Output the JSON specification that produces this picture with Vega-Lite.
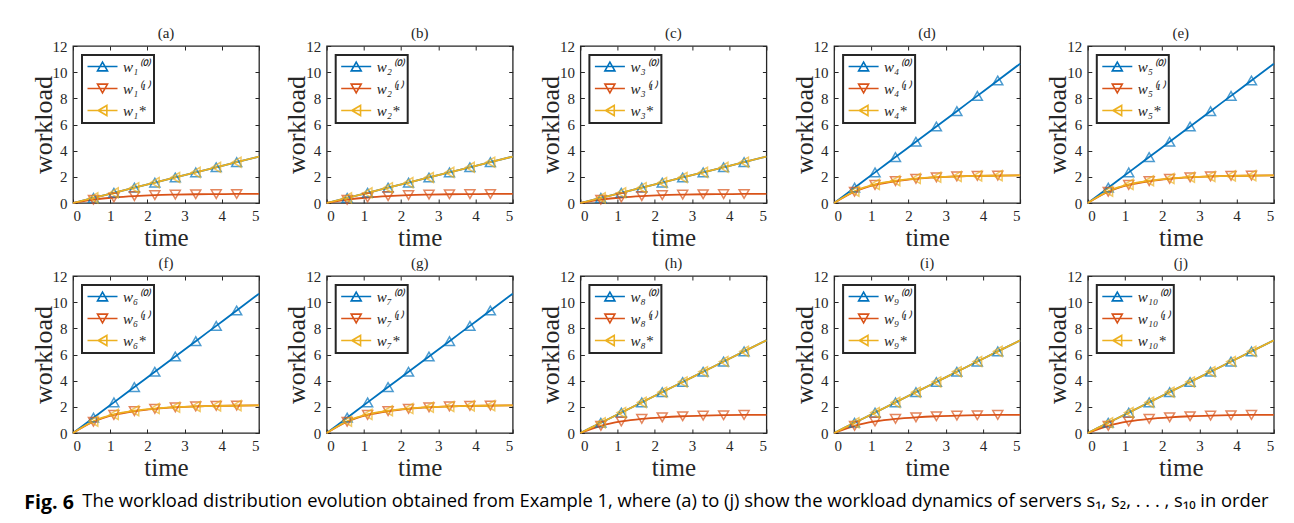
{
  "$schema": "https://vega.github.io/schema/vega-lite/v6.json",
  "background": "white",
  "padding": {"left": 24, "top": 25, "right": 10, "bottom": 5},
  "title": {"text": "The workload distribution evolution obtained from Example 1, where (a) to (j) show the workload dynamics of servers s₁, s₂, . . . , s₁₀ in order", "orient": "bottom", "anchor": "start", "font": "Open Sans", "fontSize": 18.37, "fontWeight": "normal", "color": "black", "offset": 0, "dx": 58, "dy": -20.5},
  "datasets": {
    "w": [
      {"p":"a","s":"(0)","t":0,"w":0},{"p":"a","s":"(0)","t":0.55,"w":0.39},{"p":"a","s":"(0)","t":1.1,"w":0.78},{"p":"a","s":"(0)","t":1.65,"w":1.17},{"p":"a","s":"(0)","t":2.2,"w":1.56},{"p":"a","s":"(0)","t":2.75,"w":1.95},{"p":"a","s":"(0)","t":3.3,"w":2.34},{"p":"a","s":"(0)","t":3.85,"w":2.73},{"p":"a","s":"(0)","t":4.4,"w":3.12},{"p":"a","s":"(0)","t":5,"w":3.55},
      {"p":"a","s":"(1)","t":0,"w":0},{"p":"a","s":"(1)","t":0.55,"w":0.25},{"p":"a","s":"(1)","t":1.1,"w":0.42},{"p":"a","s":"(1)","t":1.65,"w":0.53},{"p":"a","s":"(1)","t":2.2,"w":0.6},{"p":"a","s":"(1)","t":2.75,"w":0.64},{"p":"a","s":"(1)","t":3.3,"w":0.67},{"p":"a","s":"(1)","t":3.85,"w":0.68},{"p":"a","s":"(1)","t":4.4,"w":0.69},{"p":"a","s":"(1)","t":5,"w":0.7},
      {"p":"a","s":"*","t":0,"w":0},{"p":"a","s":"*","t":0.55,"w":0.39},{"p":"a","s":"*","t":1.1,"w":0.78},{"p":"a","s":"*","t":1.65,"w":1.17},{"p":"a","s":"*","t":2.2,"w":1.56},{"p":"a","s":"*","t":2.75,"w":1.95},{"p":"a","s":"*","t":3.3,"w":2.34},{"p":"a","s":"*","t":3.85,"w":2.73},{"p":"a","s":"*","t":4.4,"w":3.12},{"p":"a","s":"*","t":5,"w":3.55},
      {"p":"b","s":"(0)","t":0,"w":0},{"p":"b","s":"(0)","t":0.55,"w":0.39},{"p":"b","s":"(0)","t":1.1,"w":0.78},{"p":"b","s":"(0)","t":1.65,"w":1.17},{"p":"b","s":"(0)","t":2.2,"w":1.56},{"p":"b","s":"(0)","t":2.75,"w":1.95},{"p":"b","s":"(0)","t":3.3,"w":2.34},{"p":"b","s":"(0)","t":3.85,"w":2.73},{"p":"b","s":"(0)","t":4.4,"w":3.12},{"p":"b","s":"(0)","t":5,"w":3.55},
      {"p":"b","s":"(1)","t":0,"w":0},{"p":"b","s":"(1)","t":0.55,"w":0.25},{"p":"b","s":"(1)","t":1.1,"w":0.42},{"p":"b","s":"(1)","t":1.65,"w":0.53},{"p":"b","s":"(1)","t":2.2,"w":0.6},{"p":"b","s":"(1)","t":2.75,"w":0.64},{"p":"b","s":"(1)","t":3.3,"w":0.67},{"p":"b","s":"(1)","t":3.85,"w":0.68},{"p":"b","s":"(1)","t":4.4,"w":0.69},{"p":"b","s":"(1)","t":5,"w":0.7},
      {"p":"b","s":"*","t":0,"w":0},{"p":"b","s":"*","t":0.55,"w":0.39},{"p":"b","s":"*","t":1.1,"w":0.78},{"p":"b","s":"*","t":1.65,"w":1.17},{"p":"b","s":"*","t":2.2,"w":1.56},{"p":"b","s":"*","t":2.75,"w":1.95},{"p":"b","s":"*","t":3.3,"w":2.34},{"p":"b","s":"*","t":3.85,"w":2.73},{"p":"b","s":"*","t":4.4,"w":3.12},{"p":"b","s":"*","t":5,"w":3.55},
      {"p":"c","s":"(0)","t":0,"w":0},{"p":"c","s":"(0)","t":0.55,"w":0.39},{"p":"c","s":"(0)","t":1.1,"w":0.78},{"p":"c","s":"(0)","t":1.65,"w":1.17},{"p":"c","s":"(0)","t":2.2,"w":1.56},{"p":"c","s":"(0)","t":2.75,"w":1.95},{"p":"c","s":"(0)","t":3.3,"w":2.34},{"p":"c","s":"(0)","t":3.85,"w":2.73},{"p":"c","s":"(0)","t":4.4,"w":3.12},{"p":"c","s":"(0)","t":5,"w":3.55},
      {"p":"c","s":"(1)","t":0,"w":0},{"p":"c","s":"(1)","t":0.55,"w":0.25},{"p":"c","s":"(1)","t":1.1,"w":0.42},{"p":"c","s":"(1)","t":1.65,"w":0.53},{"p":"c","s":"(1)","t":2.2,"w":0.6},{"p":"c","s":"(1)","t":2.75,"w":0.64},{"p":"c","s":"(1)","t":3.3,"w":0.67},{"p":"c","s":"(1)","t":3.85,"w":0.68},{"p":"c","s":"(1)","t":4.4,"w":0.69},{"p":"c","s":"(1)","t":5,"w":0.7},
      {"p":"c","s":"*","t":0,"w":0},{"p":"c","s":"*","t":0.55,"w":0.39},{"p":"c","s":"*","t":1.1,"w":0.78},{"p":"c","s":"*","t":1.65,"w":1.17},{"p":"c","s":"*","t":2.2,"w":1.56},{"p":"c","s":"*","t":2.75,"w":1.95},{"p":"c","s":"*","t":3.3,"w":2.34},{"p":"c","s":"*","t":3.85,"w":2.73},{"p":"c","s":"*","t":4.4,"w":3.12},{"p":"c","s":"*","t":5,"w":3.55},
      {"p":"d","s":"(0)","t":0,"w":0},{"p":"d","s":"(0)","t":0.55,"w":1.17},{"p":"d","s":"(0)","t":1.1,"w":2.34},{"p":"d","s":"(0)","t":1.65,"w":3.51},{"p":"d","s":"(0)","t":2.2,"w":4.68},{"p":"d","s":"(0)","t":2.75,"w":5.85},{"p":"d","s":"(0)","t":3.3,"w":7.02},{"p":"d","s":"(0)","t":3.85,"w":8.19},{"p":"d","s":"(0)","t":4.4,"w":9.36},{"p":"d","s":"(0)","t":5,"w":10.65},
      {"p":"d","s":"(1)","t":0,"w":0},{"p":"d","s":"(1)","t":0.55,"w":0.86},{"p":"d","s":"(1)","t":1.1,"w":1.38},{"p":"d","s":"(1)","t":1.65,"w":1.67},{"p":"d","s":"(1)","t":2.2,"w":1.85},{"p":"d","s":"(1)","t":2.75,"w":1.96},{"p":"d","s":"(1)","t":3.3,"w":2.03},{"p":"d","s":"(1)","t":3.85,"w":2.07},{"p":"d","s":"(1)","t":4.4,"w":2.09},{"p":"d","s":"(1)","t":5,"w":2.11},
      {"p":"d","s":"*","t":0,"w":0},{"p":"d","s":"*","t":0.55,"w":0.9},{"p":"d","s":"*","t":1.1,"w":1.42},{"p":"d","s":"*","t":1.65,"w":1.7},{"p":"d","s":"*","t":2.2,"w":1.87},{"p":"d","s":"*","t":2.75,"w":1.97},{"p":"d","s":"*","t":3.3,"w":2.03},{"p":"d","s":"*","t":3.85,"w":2.07},{"p":"d","s":"*","t":4.4,"w":2.09},{"p":"d","s":"*","t":5,"w":2.11},
      {"p":"e","s":"(0)","t":0,"w":0},{"p":"e","s":"(0)","t":0.55,"w":1.17},{"p":"e","s":"(0)","t":1.1,"w":2.34},{"p":"e","s":"(0)","t":1.65,"w":3.51},{"p":"e","s":"(0)","t":2.2,"w":4.68},{"p":"e","s":"(0)","t":2.75,"w":5.85},{"p":"e","s":"(0)","t":3.3,"w":7.02},{"p":"e","s":"(0)","t":3.85,"w":8.19},{"p":"e","s":"(0)","t":4.4,"w":9.36},{"p":"e","s":"(0)","t":5,"w":10.65},
      {"p":"e","s":"(1)","t":0,"w":0},{"p":"e","s":"(1)","t":0.55,"w":0.86},{"p":"e","s":"(1)","t":1.1,"w":1.38},{"p":"e","s":"(1)","t":1.65,"w":1.67},{"p":"e","s":"(1)","t":2.2,"w":1.85},{"p":"e","s":"(1)","t":2.75,"w":1.96},{"p":"e","s":"(1)","t":3.3,"w":2.03},{"p":"e","s":"(1)","t":3.85,"w":2.07},{"p":"e","s":"(1)","t":4.4,"w":2.09},{"p":"e","s":"(1)","t":5,"w":2.11},
      {"p":"e","s":"*","t":0,"w":0},{"p":"e","s":"*","t":0.55,"w":0.9},{"p":"e","s":"*","t":1.1,"w":1.42},{"p":"e","s":"*","t":1.65,"w":1.7},{"p":"e","s":"*","t":2.2,"w":1.87},{"p":"e","s":"*","t":2.75,"w":1.97},{"p":"e","s":"*","t":3.3,"w":2.03},{"p":"e","s":"*","t":3.85,"w":2.07},{"p":"e","s":"*","t":4.4,"w":2.09},{"p":"e","s":"*","t":5,"w":2.11},
      {"p":"f","s":"(0)","t":0,"w":0},{"p":"f","s":"(0)","t":0.55,"w":1.17},{"p":"f","s":"(0)","t":1.1,"w":2.34},{"p":"f","s":"(0)","t":1.65,"w":3.51},{"p":"f","s":"(0)","t":2.2,"w":4.68},{"p":"f","s":"(0)","t":2.75,"w":5.85},{"p":"f","s":"(0)","t":3.3,"w":7.02},{"p":"f","s":"(0)","t":3.85,"w":8.19},{"p":"f","s":"(0)","t":4.4,"w":9.36},{"p":"f","s":"(0)","t":5,"w":10.65},
      {"p":"f","s":"(1)","t":0,"w":0},{"p":"f","s":"(1)","t":0.55,"w":0.86},{"p":"f","s":"(1)","t":1.1,"w":1.38},{"p":"f","s":"(1)","t":1.65,"w":1.67},{"p":"f","s":"(1)","t":2.2,"w":1.85},{"p":"f","s":"(1)","t":2.75,"w":1.96},{"p":"f","s":"(1)","t":3.3,"w":2.03},{"p":"f","s":"(1)","t":3.85,"w":2.07},{"p":"f","s":"(1)","t":4.4,"w":2.09},{"p":"f","s":"(1)","t":5,"w":2.11},
      {"p":"f","s":"*","t":0,"w":0},{"p":"f","s":"*","t":0.55,"w":0.9},{"p":"f","s":"*","t":1.1,"w":1.42},{"p":"f","s":"*","t":1.65,"w":1.7},{"p":"f","s":"*","t":2.2,"w":1.87},{"p":"f","s":"*","t":2.75,"w":1.97},{"p":"f","s":"*","t":3.3,"w":2.03},{"p":"f","s":"*","t":3.85,"w":2.07},{"p":"f","s":"*","t":4.4,"w":2.09},{"p":"f","s":"*","t":5,"w":2.11},
      {"p":"g","s":"(0)","t":0,"w":0},{"p":"g","s":"(0)","t":0.55,"w":1.17},{"p":"g","s":"(0)","t":1.1,"w":2.34},{"p":"g","s":"(0)","t":1.65,"w":3.51},{"p":"g","s":"(0)","t":2.2,"w":4.68},{"p":"g","s":"(0)","t":2.75,"w":5.85},{"p":"g","s":"(0)","t":3.3,"w":7.02},{"p":"g","s":"(0)","t":3.85,"w":8.19},{"p":"g","s":"(0)","t":4.4,"w":9.36},{"p":"g","s":"(0)","t":5,"w":10.65},
      {"p":"g","s":"(1)","t":0,"w":0},{"p":"g","s":"(1)","t":0.55,"w":0.86},{"p":"g","s":"(1)","t":1.1,"w":1.38},{"p":"g","s":"(1)","t":1.65,"w":1.67},{"p":"g","s":"(1)","t":2.2,"w":1.85},{"p":"g","s":"(1)","t":2.75,"w":1.96},{"p":"g","s":"(1)","t":3.3,"w":2.03},{"p":"g","s":"(1)","t":3.85,"w":2.07},{"p":"g","s":"(1)","t":4.4,"w":2.09},{"p":"g","s":"(1)","t":5,"w":2.11},
      {"p":"g","s":"*","t":0,"w":0},{"p":"g","s":"*","t":0.55,"w":0.9},{"p":"g","s":"*","t":1.1,"w":1.42},{"p":"g","s":"*","t":1.65,"w":1.7},{"p":"g","s":"*","t":2.2,"w":1.87},{"p":"g","s":"*","t":2.75,"w":1.97},{"p":"g","s":"*","t":3.3,"w":2.03},{"p":"g","s":"*","t":3.85,"w":2.07},{"p":"g","s":"*","t":4.4,"w":2.09},{"p":"g","s":"*","t":5,"w":2.11},
      {"p":"h","s":"(0)","t":0,"w":0},{"p":"h","s":"(0)","t":0.55,"w":0.78},{"p":"h","s":"(0)","t":1.1,"w":1.56},{"p":"h","s":"(0)","t":1.65,"w":2.34},{"p":"h","s":"(0)","t":2.2,"w":3.12},{"p":"h","s":"(0)","t":2.75,"w":3.9},{"p":"h","s":"(0)","t":3.3,"w":4.68},{"p":"h","s":"(0)","t":3.85,"w":5.46},{"p":"h","s":"(0)","t":4.4,"w":6.24},{"p":"h","s":"(0)","t":5,"w":7.08},
      {"p":"h","s":"(1)","t":0,"w":0},{"p":"h","s":"(1)","t":0.55,"w":0.55},{"p":"h","s":"(1)","t":1.1,"w":0.88},{"p":"h","s":"(1)","t":1.65,"w":1.08},{"p":"h","s":"(1)","t":2.2,"w":1.2},{"p":"h","s":"(1)","t":2.75,"w":1.28},{"p":"h","s":"(1)","t":3.3,"w":1.33},{"p":"h","s":"(1)","t":3.85,"w":1.36},{"p":"h","s":"(1)","t":4.4,"w":1.38},{"p":"h","s":"(1)","t":5,"w":1.39},
      {"p":"h","s":"*","t":0,"w":0},{"p":"h","s":"*","t":0.55,"w":0.78},{"p":"h","s":"*","t":1.1,"w":1.56},{"p":"h","s":"*","t":1.65,"w":2.34},{"p":"h","s":"*","t":2.2,"w":3.12},{"p":"h","s":"*","t":2.75,"w":3.9},{"p":"h","s":"*","t":3.3,"w":4.68},{"p":"h","s":"*","t":3.85,"w":5.46},{"p":"h","s":"*","t":4.4,"w":6.24},{"p":"h","s":"*","t":5,"w":7.08},
      {"p":"i","s":"(0)","t":0,"w":0},{"p":"i","s":"(0)","t":0.55,"w":0.78},{"p":"i","s":"(0)","t":1.1,"w":1.56},{"p":"i","s":"(0)","t":1.65,"w":2.34},{"p":"i","s":"(0)","t":2.2,"w":3.12},{"p":"i","s":"(0)","t":2.75,"w":3.9},{"p":"i","s":"(0)","t":3.3,"w":4.68},{"p":"i","s":"(0)","t":3.85,"w":5.46},{"p":"i","s":"(0)","t":4.4,"w":6.24},{"p":"i","s":"(0)","t":5,"w":7.08},
      {"p":"i","s":"(1)","t":0,"w":0},{"p":"i","s":"(1)","t":0.55,"w":0.55},{"p":"i","s":"(1)","t":1.1,"w":0.88},{"p":"i","s":"(1)","t":1.65,"w":1.08},{"p":"i","s":"(1)","t":2.2,"w":1.2},{"p":"i","s":"(1)","t":2.75,"w":1.28},{"p":"i","s":"(1)","t":3.3,"w":1.33},{"p":"i","s":"(1)","t":3.85,"w":1.36},{"p":"i","s":"(1)","t":4.4,"w":1.38},{"p":"i","s":"(1)","t":5,"w":1.39},
      {"p":"i","s":"*","t":0,"w":0},{"p":"i","s":"*","t":0.55,"w":0.78},{"p":"i","s":"*","t":1.1,"w":1.56},{"p":"i","s":"*","t":1.65,"w":2.34},{"p":"i","s":"*","t":2.2,"w":3.12},{"p":"i","s":"*","t":2.75,"w":3.9},{"p":"i","s":"*","t":3.3,"w":4.68},{"p":"i","s":"*","t":3.85,"w":5.46},{"p":"i","s":"*","t":4.4,"w":6.24},{"p":"i","s":"*","t":5,"w":7.08},
      {"p":"j","s":"(0)","t":0,"w":0},{"p":"j","s":"(0)","t":0.55,"w":0.78},{"p":"j","s":"(0)","t":1.1,"w":1.56},{"p":"j","s":"(0)","t":1.65,"w":2.34},{"p":"j","s":"(0)","t":2.2,"w":3.12},{"p":"j","s":"(0)","t":2.75,"w":3.9},{"p":"j","s":"(0)","t":3.3,"w":4.68},{"p":"j","s":"(0)","t":3.85,"w":5.46},{"p":"j","s":"(0)","t":4.4,"w":6.24},{"p":"j","s":"(0)","t":5,"w":7.08},
      {"p":"j","s":"(1)","t":0,"w":0},{"p":"j","s":"(1)","t":0.55,"w":0.55},{"p":"j","s":"(1)","t":1.1,"w":0.88},{"p":"j","s":"(1)","t":1.65,"w":1.08},{"p":"j","s":"(1)","t":2.2,"w":1.2},{"p":"j","s":"(1)","t":2.75,"w":1.28},{"p":"j","s":"(1)","t":3.3,"w":1.33},{"p":"j","s":"(1)","t":3.85,"w":1.36},{"p":"j","s":"(1)","t":4.4,"w":1.38},{"p":"j","s":"(1)","t":5,"w":1.39},
      {"p":"j","s":"*","t":0,"w":0},{"p":"j","s":"*","t":0.55,"w":0.78},{"p":"j","s":"*","t":1.1,"w":1.56},{"p":"j","s":"*","t":1.65,"w":2.34},{"p":"j","s":"*","t":2.2,"w":3.12},{"p":"j","s":"*","t":2.75,"w":3.9},{"p":"j","s":"*","t":3.3,"w":4.68},{"p":"j","s":"*","t":3.85,"w":5.46},{"p":"j","s":"*","t":4.4,"w":6.24},{"p":"j","s":"*","t":5,"w":7.08}
    ]
  },
  "data": {"name": "w"},
  "resolve": {"scale": {"color": "independent", "x": "independent", "y": "independent"}, "legend": {"color": "independent"}},
  "vconcat": [
   {"bounds": "flush", "columns": 5, "spacing": {"row": 73, "column": 67.7},
    "title": {"text": "Fig. 6", "orient": "bottom", "anchor": "start", "font": "Open Sans", "fontSize": 19.5, "fontWeight": "bold", "color": "black", "offset": 13, "dx": -5},
    "resolve": {"scale": {"color": "independent", "x": "independent", "y": "independent"}, "legend": {"color": "independent"}},
    "concat": [
    {"width": 186, "height": 157, "title": "(a)", "transform": [{"filter": "datum.p == 'a'"}], "resolve": {"axis": {"x": "independent", "y": "independent"}},
     "layer": [
      {"mark": {"type": "line", "strokeWidth": 1.8, "interpolate": "monotone"}, "encoding": {"x": {"field": "t", "type": "quantitative", "scale": {"domain": [0, 5]}, "axis": {"orient": "bottom", "title": "time", "values": [0,1,2,3,4,5], "labelPadding": 9, "titleFont": "Liberation Serif", "titleFontWeight": "normal", "titleFontSize": 25, "labelFont": "Liberation Serif", "labelFontSize": 15}}, "y": {"field": "w", "type": "quantitative", "scale": {"domain": [0, 12]}, "axis": {"orient": "left", "title": "workload", "values": [0,2,4,6,8,10,12], "labelPadding": 10, "titlePadding": -4, "titleFont": "Liberation Serif", "titleFontWeight": "normal", "titleFontSize": 26, "labelFont": "Liberation Serif", "labelFontSize": 15}}, "color": {"field": "s", "type": "nominal", "scale": {"domain": ["(0)","(1)","*"], "range": ["#0072BD","#D95319","#EDB120"]}, "legend": {"labelExpr": "datum.value == '(0)' ? 'w₁⁽⁰⁾' : datum.value == '(1)' ? 'w₁⁽¹⁾' : 'w₁*'", "encode": {"legend": {"update": {"stroke": {"value": "#262626"}, "strokeWidth": {"value": 2}, "fill": {"value": "white"}}}, "symbols": {"update": {"shape": {"signal": "datum.value == '(0)' ? 'M-3,0H3M0,-0.87L1,0.87H-1Z' : datum.value == '(1)' ? 'M-3,0H3M0,0.87L1,-0.87H-1Z' : 'M-3,0H3M-0.87,0L0.87,-1V1Z'"}, "fill": {"value": "transparent"}, "strokeWidth": {"value": 1.6}}}}}}}},
      {"transform": [{"filter": "datum.s == '(0)' && datum.t > 0 && datum.t < 5"}], "mark": {"type": "point", "shape": "triangle-up", "filled": false, "size": 100, "strokeWidth": 1.5, "color": "#0072BD"}, "encoding": {"x": {"field": "t", "type": "quantitative", "scale": {"domain": [0, 5]}, "axis": {"orient": "top", "labels": false, "title": null, "values": [0,1,2,3,4,5]}}, "y": {"field": "w", "type": "quantitative", "scale": {"domain": [0, 12]}, "axis": {"orient": "right", "labels": false, "title": null, "values": [0,2,4,6,8,10,12]}}}},
      {"transform": [{"filter": "datum.s == '(1)' && datum.t > 0 && datum.t < 5"}], "mark": {"type": "point", "shape": "triangle-down", "filled": false, "size": 100, "strokeWidth": 1.5, "color": "#D95319"}, "encoding": {"x": {"field": "t", "type": "quantitative", "scale": {"domain": [0, 5]}, "axis": null}, "y": {"field": "w", "type": "quantitative", "scale": {"domain": [0, 12]}, "axis": null}}},
      {"transform": [{"filter": "datum.s == '*' && datum.t > 0 && datum.t < 5"}], "mark": {"type": "point", "shape": "triangle-left", "filled": false, "size": 100, "strokeWidth": 1.5, "color": "#EDB120"}, "encoding": {"x": {"field": "t", "type": "quantitative", "scale": {"domain": [0, 5]}, "axis": null}, "y": {"field": "w", "type": "quantitative", "scale": {"domain": [0, 12]}, "axis": null}}}
     ]},
    {"width": 186, "height": 157, "title": "(b)", "transform": [{"filter": "datum.p == 'b'"}], "resolve": {"axis": {"x": "independent", "y": "independent"}},
     "layer": [
      {"mark": {"type": "line", "strokeWidth": 1.8, "interpolate": "monotone"}, "encoding": {"x": {"field": "t", "type": "quantitative", "scale": {"domain": [0, 5]}, "axis": {"orient": "bottom", "title": "time", "values": [0,1,2,3,4,5], "labelPadding": 9, "titleFont": "Liberation Serif", "titleFontWeight": "normal", "titleFontSize": 25, "labelFont": "Liberation Serif", "labelFontSize": 15}}, "y": {"field": "w", "type": "quantitative", "scale": {"domain": [0, 12]}, "axis": {"orient": "left", "title": "workload", "values": [0,2,4,6,8,10,12], "labelPadding": 10, "titlePadding": -4, "titleFont": "Liberation Serif", "titleFontWeight": "normal", "titleFontSize": 26, "labelFont": "Liberation Serif", "labelFontSize": 15}}, "color": {"field": "s", "type": "nominal", "scale": {"domain": ["(0)","(1)","*"], "range": ["#0072BD","#D95319","#EDB120"]}, "legend": {"labelExpr": "datum.value == '(0)' ? 'w₂⁽⁰⁾' : datum.value == '(1)' ? 'w₂⁽¹⁾' : 'w₂*'", "encode": {"legend": {"update": {"stroke": {"value": "#262626"}, "strokeWidth": {"value": 2}, "fill": {"value": "white"}}}, "symbols": {"update": {"shape": {"signal": "datum.value == '(0)' ? 'M-3,0H3M0,-0.87L1,0.87H-1Z' : datum.value == '(1)' ? 'M-3,0H3M0,0.87L1,-0.87H-1Z' : 'M-3,0H3M-0.87,0L0.87,-1V1Z'"}, "fill": {"value": "transparent"}, "strokeWidth": {"value": 1.6}}}}}}}},
      {"transform": [{"filter": "datum.s == '(0)' && datum.t > 0 && datum.t < 5"}], "mark": {"type": "point", "shape": "triangle-up", "filled": false, "size": 100, "strokeWidth": 1.5, "color": "#0072BD"}, "encoding": {"x": {"field": "t", "type": "quantitative", "scale": {"domain": [0, 5]}, "axis": {"orient": "top", "labels": false, "title": null, "values": [0,1,2,3,4,5]}}, "y": {"field": "w", "type": "quantitative", "scale": {"domain": [0, 12]}, "axis": {"orient": "right", "labels": false, "title": null, "values": [0,2,4,6,8,10,12]}}}},
      {"transform": [{"filter": "datum.s == '(1)' && datum.t > 0 && datum.t < 5"}], "mark": {"type": "point", "shape": "triangle-down", "filled": false, "size": 100, "strokeWidth": 1.5, "color": "#D95319"}, "encoding": {"x": {"field": "t", "type": "quantitative", "scale": {"domain": [0, 5]}, "axis": null}, "y": {"field": "w", "type": "quantitative", "scale": {"domain": [0, 12]}, "axis": null}}},
      {"transform": [{"filter": "datum.s == '*' && datum.t > 0 && datum.t < 5"}], "mark": {"type": "point", "shape": "triangle-left", "filled": false, "size": 100, "strokeWidth": 1.5, "color": "#EDB120"}, "encoding": {"x": {"field": "t", "type": "quantitative", "scale": {"domain": [0, 5]}, "axis": null}, "y": {"field": "w", "type": "quantitative", "scale": {"domain": [0, 12]}, "axis": null}}}
     ]},
    {"width": 186, "height": 157, "title": "(c)", "transform": [{"filter": "datum.p == 'c'"}], "resolve": {"axis": {"x": "independent", "y": "independent"}},
     "layer": [
      {"mark": {"type": "line", "strokeWidth": 1.8, "interpolate": "monotone"}, "encoding": {"x": {"field": "t", "type": "quantitative", "scale": {"domain": [0, 5]}, "axis": {"orient": "bottom", "title": "time", "values": [0,1,2,3,4,5], "labelPadding": 9, "titleFont": "Liberation Serif", "titleFontWeight": "normal", "titleFontSize": 25, "labelFont": "Liberation Serif", "labelFontSize": 15}}, "y": {"field": "w", "type": "quantitative", "scale": {"domain": [0, 12]}, "axis": {"orient": "left", "title": "workload", "values": [0,2,4,6,8,10,12], "labelPadding": 10, "titlePadding": -4, "titleFont": "Liberation Serif", "titleFontWeight": "normal", "titleFontSize": 26, "labelFont": "Liberation Serif", "labelFontSize": 15}}, "color": {"field": "s", "type": "nominal", "scale": {"domain": ["(0)","(1)","*"], "range": ["#0072BD","#D95319","#EDB120"]}, "legend": {"labelExpr": "datum.value == '(0)' ? 'w₃⁽⁰⁾' : datum.value == '(1)' ? 'w₃⁽¹⁾' : 'w₃*'", "encode": {"legend": {"update": {"stroke": {"value": "#262626"}, "strokeWidth": {"value": 2}, "fill": {"value": "white"}}}, "symbols": {"update": {"shape": {"signal": "datum.value == '(0)' ? 'M-3,0H3M0,-0.87L1,0.87H-1Z' : datum.value == '(1)' ? 'M-3,0H3M0,0.87L1,-0.87H-1Z' : 'M-3,0H3M-0.87,0L0.87,-1V1Z'"}, "fill": {"value": "transparent"}, "strokeWidth": {"value": 1.6}}}}}}}},
      {"transform": [{"filter": "datum.s == '(0)' && datum.t > 0 && datum.t < 5"}], "mark": {"type": "point", "shape": "triangle-up", "filled": false, "size": 100, "strokeWidth": 1.5, "color": "#0072BD"}, "encoding": {"x": {"field": "t", "type": "quantitative", "scale": {"domain": [0, 5]}, "axis": {"orient": "top", "labels": false, "title": null, "values": [0,1,2,3,4,5]}}, "y": {"field": "w", "type": "quantitative", "scale": {"domain": [0, 12]}, "axis": {"orient": "right", "labels": false, "title": null, "values": [0,2,4,6,8,10,12]}}}},
      {"transform": [{"filter": "datum.s == '(1)' && datum.t > 0 && datum.t < 5"}], "mark": {"type": "point", "shape": "triangle-down", "filled": false, "size": 100, "strokeWidth": 1.5, "color": "#D95319"}, "encoding": {"x": {"field": "t", "type": "quantitative", "scale": {"domain": [0, 5]}, "axis": null}, "y": {"field": "w", "type": "quantitative", "scale": {"domain": [0, 12]}, "axis": null}}},
      {"transform": [{"filter": "datum.s == '*' && datum.t > 0 && datum.t < 5"}], "mark": {"type": "point", "shape": "triangle-left", "filled": false, "size": 100, "strokeWidth": 1.5, "color": "#EDB120"}, "encoding": {"x": {"field": "t", "type": "quantitative", "scale": {"domain": [0, 5]}, "axis": null}, "y": {"field": "w", "type": "quantitative", "scale": {"domain": [0, 12]}, "axis": null}}}
     ]},
    {"width": 186, "height": 157, "title": "(d)", "transform": [{"filter": "datum.p == 'd'"}], "resolve": {"axis": {"x": "independent", "y": "independent"}},
     "layer": [
      {"mark": {"type": "line", "strokeWidth": 1.8, "interpolate": "monotone"}, "encoding": {"x": {"field": "t", "type": "quantitative", "scale": {"domain": [0, 5]}, "axis": {"orient": "bottom", "title": "time", "values": [0,1,2,3,4,5], "labelPadding": 9, "titleFont": "Liberation Serif", "titleFontWeight": "normal", "titleFontSize": 25, "labelFont": "Liberation Serif", "labelFontSize": 15}}, "y": {"field": "w", "type": "quantitative", "scale": {"domain": [0, 12]}, "axis": {"orient": "left", "title": "workload", "values": [0,2,4,6,8,10,12], "labelPadding": 10, "titlePadding": -4, "titleFont": "Liberation Serif", "titleFontWeight": "normal", "titleFontSize": 26, "labelFont": "Liberation Serif", "labelFontSize": 15}}, "color": {"field": "s", "type": "nominal", "scale": {"domain": ["(0)","(1)","*"], "range": ["#0072BD","#D95319","#EDB120"]}, "legend": {"labelExpr": "datum.value == '(0)' ? 'w₄⁽⁰⁾' : datum.value == '(1)' ? 'w₄⁽¹⁾' : 'w₄*'", "encode": {"legend": {"update": {"stroke": {"value": "#262626"}, "strokeWidth": {"value": 2}, "fill": {"value": "white"}}}, "symbols": {"update": {"shape": {"signal": "datum.value == '(0)' ? 'M-3,0H3M0,-0.87L1,0.87H-1Z' : datum.value == '(1)' ? 'M-3,0H3M0,0.87L1,-0.87H-1Z' : 'M-3,0H3M-0.87,0L0.87,-1V1Z'"}, "fill": {"value": "transparent"}, "strokeWidth": {"value": 1.6}}}}}}}},
      {"transform": [{"filter": "datum.s == '(0)' && datum.t > 0 && datum.t < 5"}], "mark": {"type": "point", "shape": "triangle-up", "filled": false, "size": 100, "strokeWidth": 1.5, "color": "#0072BD"}, "encoding": {"x": {"field": "t", "type": "quantitative", "scale": {"domain": [0, 5]}, "axis": {"orient": "top", "labels": false, "title": null, "values": [0,1,2,3,4,5]}}, "y": {"field": "w", "type": "quantitative", "scale": {"domain": [0, 12]}, "axis": {"orient": "right", "labels": false, "title": null, "values": [0,2,4,6,8,10,12]}}}},
      {"transform": [{"filter": "datum.s == '(1)' && datum.t > 0 && datum.t < 5"}], "mark": {"type": "point", "shape": "triangle-down", "filled": false, "size": 100, "strokeWidth": 1.5, "color": "#D95319"}, "encoding": {"x": {"field": "t", "type": "quantitative", "scale": {"domain": [0, 5]}, "axis": null}, "y": {"field": "w", "type": "quantitative", "scale": {"domain": [0, 12]}, "axis": null}}},
      {"transform": [{"filter": "datum.s == '*' && datum.t > 0 && datum.t < 5"}], "mark": {"type": "point", "shape": "triangle-left", "filled": false, "size": 100, "strokeWidth": 1.5, "color": "#EDB120"}, "encoding": {"x": {"field": "t", "type": "quantitative", "scale": {"domain": [0, 5]}, "axis": null}, "y": {"field": "w", "type": "quantitative", "scale": {"domain": [0, 12]}, "axis": null}}}
     ]},
    {"width": 186, "height": 157, "title": "(e)", "transform": [{"filter": "datum.p == 'e'"}], "resolve": {"axis": {"x": "independent", "y": "independent"}},
     "layer": [
      {"mark": {"type": "line", "strokeWidth": 1.8, "interpolate": "monotone"}, "encoding": {"x": {"field": "t", "type": "quantitative", "scale": {"domain": [0, 5]}, "axis": {"orient": "bottom", "title": "time", "values": [0,1,2,3,4,5], "labelPadding": 9, "titleFont": "Liberation Serif", "titleFontWeight": "normal", "titleFontSize": 25, "labelFont": "Liberation Serif", "labelFontSize": 15}}, "y": {"field": "w", "type": "quantitative", "scale": {"domain": [0, 12]}, "axis": {"orient": "left", "title": "workload", "values": [0,2,4,6,8,10,12], "labelPadding": 10, "titlePadding": -4, "titleFont": "Liberation Serif", "titleFontWeight": "normal", "titleFontSize": 26, "labelFont": "Liberation Serif", "labelFontSize": 15}}, "color": {"field": "s", "type": "nominal", "scale": {"domain": ["(0)","(1)","*"], "range": ["#0072BD","#D95319","#EDB120"]}, "legend": {"labelExpr": "datum.value == '(0)' ? 'w₅⁽⁰⁾' : datum.value == '(1)' ? 'w₅⁽¹⁾' : 'w₅*'", "encode": {"legend": {"update": {"stroke": {"value": "#262626"}, "strokeWidth": {"value": 2}, "fill": {"value": "white"}}}, "symbols": {"update": {"shape": {"signal": "datum.value == '(0)' ? 'M-3,0H3M0,-0.87L1,0.87H-1Z' : datum.value == '(1)' ? 'M-3,0H3M0,0.87L1,-0.87H-1Z' : 'M-3,0H3M-0.87,0L0.87,-1V1Z'"}, "fill": {"value": "transparent"}, "strokeWidth": {"value": 1.6}}}}}}}},
      {"transform": [{"filter": "datum.s == '(0)' && datum.t > 0 && datum.t < 5"}], "mark": {"type": "point", "shape": "triangle-up", "filled": false, "size": 100, "strokeWidth": 1.5, "color": "#0072BD"}, "encoding": {"x": {"field": "t", "type": "quantitative", "scale": {"domain": [0, 5]}, "axis": {"orient": "top", "labels": false, "title": null, "values": [0,1,2,3,4,5]}}, "y": {"field": "w", "type": "quantitative", "scale": {"domain": [0, 12]}, "axis": {"orient": "right", "labels": false, "title": null, "values": [0,2,4,6,8,10,12]}}}},
      {"transform": [{"filter": "datum.s == '(1)' && datum.t > 0 && datum.t < 5"}], "mark": {"type": "point", "shape": "triangle-down", "filled": false, "size": 100, "strokeWidth": 1.5, "color": "#D95319"}, "encoding": {"x": {"field": "t", "type": "quantitative", "scale": {"domain": [0, 5]}, "axis": null}, "y": {"field": "w", "type": "quantitative", "scale": {"domain": [0, 12]}, "axis": null}}},
      {"transform": [{"filter": "datum.s == '*' && datum.t > 0 && datum.t < 5"}], "mark": {"type": "point", "shape": "triangle-left", "filled": false, "size": 100, "strokeWidth": 1.5, "color": "#EDB120"}, "encoding": {"x": {"field": "t", "type": "quantitative", "scale": {"domain": [0, 5]}, "axis": null}, "y": {"field": "w", "type": "quantitative", "scale": {"domain": [0, 12]}, "axis": null}}}
     ]},
    {"width": 186, "height": 157, "title": "(f)", "transform": [{"filter": "datum.p == 'f'"}], "resolve": {"axis": {"x": "independent", "y": "independent"}},
     "layer": [
      {"mark": {"type": "line", "strokeWidth": 1.8, "interpolate": "monotone"}, "encoding": {"x": {"field": "t", "type": "quantitative", "scale": {"domain": [0, 5]}, "axis": {"orient": "bottom", "title": "time", "values": [0,1,2,3,4,5], "labelPadding": 9, "titleFont": "Liberation Serif", "titleFontWeight": "normal", "titleFontSize": 25, "labelFont": "Liberation Serif", "labelFontSize": 15}}, "y": {"field": "w", "type": "quantitative", "scale": {"domain": [0, 12]}, "axis": {"orient": "left", "title": "workload", "values": [0,2,4,6,8,10,12], "labelPadding": 10, "titlePadding": -4, "titleFont": "Liberation Serif", "titleFontWeight": "normal", "titleFontSize": 26, "labelFont": "Liberation Serif", "labelFontSize": 15}}, "color": {"field": "s", "type": "nominal", "scale": {"domain": ["(0)","(1)","*"], "range": ["#0072BD","#D95319","#EDB120"]}, "legend": {"labelExpr": "datum.value == '(0)' ? 'w₆⁽⁰⁾' : datum.value == '(1)' ? 'w₆⁽¹⁾' : 'w₆*'", "encode": {"legend": {"update": {"stroke": {"value": "#262626"}, "strokeWidth": {"value": 2}, "fill": {"value": "white"}}}, "symbols": {"update": {"shape": {"signal": "datum.value == '(0)' ? 'M-3,0H3M0,-0.87L1,0.87H-1Z' : datum.value == '(1)' ? 'M-3,0H3M0,0.87L1,-0.87H-1Z' : 'M-3,0H3M-0.87,0L0.87,-1V1Z'"}, "fill": {"value": "transparent"}, "strokeWidth": {"value": 1.6}}}}}}}},
      {"transform": [{"filter": "datum.s == '(0)' && datum.t > 0 && datum.t < 5"}], "mark": {"type": "point", "shape": "triangle-up", "filled": false, "size": 100, "strokeWidth": 1.5, "color": "#0072BD"}, "encoding": {"x": {"field": "t", "type": "quantitative", "scale": {"domain": [0, 5]}, "axis": {"orient": "top", "labels": false, "title": null, "values": [0,1,2,3,4,5]}}, "y": {"field": "w", "type": "quantitative", "scale": {"domain": [0, 12]}, "axis": {"orient": "right", "labels": false, "title": null, "values": [0,2,4,6,8,10,12]}}}},
      {"transform": [{"filter": "datum.s == '(1)' && datum.t > 0 && datum.t < 5"}], "mark": {"type": "point", "shape": "triangle-down", "filled": false, "size": 100, "strokeWidth": 1.5, "color": "#D95319"}, "encoding": {"x": {"field": "t", "type": "quantitative", "scale": {"domain": [0, 5]}, "axis": null}, "y": {"field": "w", "type": "quantitative", "scale": {"domain": [0, 12]}, "axis": null}}},
      {"transform": [{"filter": "datum.s == '*' && datum.t > 0 && datum.t < 5"}], "mark": {"type": "point", "shape": "triangle-left", "filled": false, "size": 100, "strokeWidth": 1.5, "color": "#EDB120"}, "encoding": {"x": {"field": "t", "type": "quantitative", "scale": {"domain": [0, 5]}, "axis": null}, "y": {"field": "w", "type": "quantitative", "scale": {"domain": [0, 12]}, "axis": null}}}
     ]},
    {"width": 186, "height": 157, "title": "(g)", "transform": [{"filter": "datum.p == 'g'"}], "resolve": {"axis": {"x": "independent", "y": "independent"}},
     "layer": [
      {"mark": {"type": "line", "strokeWidth": 1.8, "interpolate": "monotone"}, "encoding": {"x": {"field": "t", "type": "quantitative", "scale": {"domain": [0, 5]}, "axis": {"orient": "bottom", "title": "time", "values": [0,1,2,3,4,5], "labelPadding": 9, "titleFont": "Liberation Serif", "titleFontWeight": "normal", "titleFontSize": 25, "labelFont": "Liberation Serif", "labelFontSize": 15}}, "y": {"field": "w", "type": "quantitative", "scale": {"domain": [0, 12]}, "axis": {"orient": "left", "title": "workload", "values": [0,2,4,6,8,10,12], "labelPadding": 10, "titlePadding": -4, "titleFont": "Liberation Serif", "titleFontWeight": "normal", "titleFontSize": 26, "labelFont": "Liberation Serif", "labelFontSize": 15}}, "color": {"field": "s", "type": "nominal", "scale": {"domain": ["(0)","(1)","*"], "range": ["#0072BD","#D95319","#EDB120"]}, "legend": {"labelExpr": "datum.value == '(0)' ? 'w₇⁽⁰⁾' : datum.value == '(1)' ? 'w₇⁽¹⁾' : 'w₇*'", "encode": {"legend": {"update": {"stroke": {"value": "#262626"}, "strokeWidth": {"value": 2}, "fill": {"value": "white"}}}, "symbols": {"update": {"shape": {"signal": "datum.value == '(0)' ? 'M-3,0H3M0,-0.87L1,0.87H-1Z' : datum.value == '(1)' ? 'M-3,0H3M0,0.87L1,-0.87H-1Z' : 'M-3,0H3M-0.87,0L0.87,-1V1Z'"}, "fill": {"value": "transparent"}, "strokeWidth": {"value": 1.6}}}}}}}},
      {"transform": [{"filter": "datum.s == '(0)' && datum.t > 0 && datum.t < 5"}], "mark": {"type": "point", "shape": "triangle-up", "filled": false, "size": 100, "strokeWidth": 1.5, "color": "#0072BD"}, "encoding": {"x": {"field": "t", "type": "quantitative", "scale": {"domain": [0, 5]}, "axis": {"orient": "top", "labels": false, "title": null, "values": [0,1,2,3,4,5]}}, "y": {"field": "w", "type": "quantitative", "scale": {"domain": [0, 12]}, "axis": {"orient": "right", "labels": false, "title": null, "values": [0,2,4,6,8,10,12]}}}},
      {"transform": [{"filter": "datum.s == '(1)' && datum.t > 0 && datum.t < 5"}], "mark": {"type": "point", "shape": "triangle-down", "filled": false, "size": 100, "strokeWidth": 1.5, "color": "#D95319"}, "encoding": {"x": {"field": "t", "type": "quantitative", "scale": {"domain": [0, 5]}, "axis": null}, "y": {"field": "w", "type": "quantitative", "scale": {"domain": [0, 12]}, "axis": null}}},
      {"transform": [{"filter": "datum.s == '*' && datum.t > 0 && datum.t < 5"}], "mark": {"type": "point", "shape": "triangle-left", "filled": false, "size": 100, "strokeWidth": 1.5, "color": "#EDB120"}, "encoding": {"x": {"field": "t", "type": "quantitative", "scale": {"domain": [0, 5]}, "axis": null}, "y": {"field": "w", "type": "quantitative", "scale": {"domain": [0, 12]}, "axis": null}}}
     ]},
    {"width": 186, "height": 157, "title": "(h)", "transform": [{"filter": "datum.p == 'h'"}], "resolve": {"axis": {"x": "independent", "y": "independent"}},
     "layer": [
      {"mark": {"type": "line", "strokeWidth": 1.8, "interpolate": "monotone"}, "encoding": {"x": {"field": "t", "type": "quantitative", "scale": {"domain": [0, 5]}, "axis": {"orient": "bottom", "title": "time", "values": [0,1,2,3,4,5], "labelPadding": 9, "titleFont": "Liberation Serif", "titleFontWeight": "normal", "titleFontSize": 25, "labelFont": "Liberation Serif", "labelFontSize": 15}}, "y": {"field": "w", "type": "quantitative", "scale": {"domain": [0, 12]}, "axis": {"orient": "left", "title": "workload", "values": [0,2,4,6,8,10,12], "labelPadding": 10, "titlePadding": -4, "titleFont": "Liberation Serif", "titleFontWeight": "normal", "titleFontSize": 26, "labelFont": "Liberation Serif", "labelFontSize": 15}}, "color": {"field": "s", "type": "nominal", "scale": {"domain": ["(0)","(1)","*"], "range": ["#0072BD","#D95319","#EDB120"]}, "legend": {"labelExpr": "datum.value == '(0)' ? 'w₈⁽⁰⁾' : datum.value == '(1)' ? 'w₈⁽¹⁾' : 'w₈*'", "encode": {"legend": {"update": {"stroke": {"value": "#262626"}, "strokeWidth": {"value": 2}, "fill": {"value": "white"}}}, "symbols": {"update": {"shape": {"signal": "datum.value == '(0)' ? 'M-3,0H3M0,-0.87L1,0.87H-1Z' : datum.value == '(1)' ? 'M-3,0H3M0,0.87L1,-0.87H-1Z' : 'M-3,0H3M-0.87,0L0.87,-1V1Z'"}, "fill": {"value": "transparent"}, "strokeWidth": {"value": 1.6}}}}}}}},
      {"transform": [{"filter": "datum.s == '(0)' && datum.t > 0 && datum.t < 5"}], "mark": {"type": "point", "shape": "triangle-up", "filled": false, "size": 100, "strokeWidth": 1.5, "color": "#0072BD"}, "encoding": {"x": {"field": "t", "type": "quantitative", "scale": {"domain": [0, 5]}, "axis": {"orient": "top", "labels": false, "title": null, "values": [0,1,2,3,4,5]}}, "y": {"field": "w", "type": "quantitative", "scale": {"domain": [0, 12]}, "axis": {"orient": "right", "labels": false, "title": null, "values": [0,2,4,6,8,10,12]}}}},
      {"transform": [{"filter": "datum.s == '(1)' && datum.t > 0 && datum.t < 5"}], "mark": {"type": "point", "shape": "triangle-down", "filled": false, "size": 100, "strokeWidth": 1.5, "color": "#D95319"}, "encoding": {"x": {"field": "t", "type": "quantitative", "scale": {"domain": [0, 5]}, "axis": null}, "y": {"field": "w", "type": "quantitative", "scale": {"domain": [0, 12]}, "axis": null}}},
      {"transform": [{"filter": "datum.s == '*' && datum.t > 0 && datum.t < 5"}], "mark": {"type": "point", "shape": "triangle-left", "filled": false, "size": 100, "strokeWidth": 1.5, "color": "#EDB120"}, "encoding": {"x": {"field": "t", "type": "quantitative", "scale": {"domain": [0, 5]}, "axis": null}, "y": {"field": "w", "type": "quantitative", "scale": {"domain": [0, 12]}, "axis": null}}}
     ]},
    {"width": 186, "height": 157, "title": "(i)", "transform": [{"filter": "datum.p == 'i'"}], "resolve": {"axis": {"x": "independent", "y": "independent"}},
     "layer": [
      {"mark": {"type": "line", "strokeWidth": 1.8, "interpolate": "monotone"}, "encoding": {"x": {"field": "t", "type": "quantitative", "scale": {"domain": [0, 5]}, "axis": {"orient": "bottom", "title": "time", "values": [0,1,2,3,4,5], "labelPadding": 9, "titleFont": "Liberation Serif", "titleFontWeight": "normal", "titleFontSize": 25, "labelFont": "Liberation Serif", "labelFontSize": 15}}, "y": {"field": "w", "type": "quantitative", "scale": {"domain": [0, 12]}, "axis": {"orient": "left", "title": "workload", "values": [0,2,4,6,8,10,12], "labelPadding": 10, "titlePadding": -4, "titleFont": "Liberation Serif", "titleFontWeight": "normal", "titleFontSize": 26, "labelFont": "Liberation Serif", "labelFontSize": 15}}, "color": {"field": "s", "type": "nominal", "scale": {"domain": ["(0)","(1)","*"], "range": ["#0072BD","#D95319","#EDB120"]}, "legend": {"labelExpr": "datum.value == '(0)' ? 'w₉⁽⁰⁾' : datum.value == '(1)' ? 'w₉⁽¹⁾' : 'w₉*'", "encode": {"legend": {"update": {"stroke": {"value": "#262626"}, "strokeWidth": {"value": 2}, "fill": {"value": "white"}}}, "symbols": {"update": {"shape": {"signal": "datum.value == '(0)' ? 'M-3,0H3M0,-0.87L1,0.87H-1Z' : datum.value == '(1)' ? 'M-3,0H3M0,0.87L1,-0.87H-1Z' : 'M-3,0H3M-0.87,0L0.87,-1V1Z'"}, "fill": {"value": "transparent"}, "strokeWidth": {"value": 1.6}}}}}}}},
      {"transform": [{"filter": "datum.s == '(0)' && datum.t > 0 && datum.t < 5"}], "mark": {"type": "point", "shape": "triangle-up", "filled": false, "size": 100, "strokeWidth": 1.5, "color": "#0072BD"}, "encoding": {"x": {"field": "t", "type": "quantitative", "scale": {"domain": [0, 5]}, "axis": {"orient": "top", "labels": false, "title": null, "values": [0,1,2,3,4,5]}}, "y": {"field": "w", "type": "quantitative", "scale": {"domain": [0, 12]}, "axis": {"orient": "right", "labels": false, "title": null, "values": [0,2,4,6,8,10,12]}}}},
      {"transform": [{"filter": "datum.s == '(1)' && datum.t > 0 && datum.t < 5"}], "mark": {"type": "point", "shape": "triangle-down", "filled": false, "size": 100, "strokeWidth": 1.5, "color": "#D95319"}, "encoding": {"x": {"field": "t", "type": "quantitative", "scale": {"domain": [0, 5]}, "axis": null}, "y": {"field": "w", "type": "quantitative", "scale": {"domain": [0, 12]}, "axis": null}}},
      {"transform": [{"filter": "datum.s == '*' && datum.t > 0 && datum.t < 5"}], "mark": {"type": "point", "shape": "triangle-left", "filled": false, "size": 100, "strokeWidth": 1.5, "color": "#EDB120"}, "encoding": {"x": {"field": "t", "type": "quantitative", "scale": {"domain": [0, 5]}, "axis": null}, "y": {"field": "w", "type": "quantitative", "scale": {"domain": [0, 12]}, "axis": null}}}
     ]},
    {"width": 186, "height": 157, "title": "(j)", "transform": [{"filter": "datum.p == 'j'"}], "resolve": {"axis": {"x": "independent", "y": "independent"}},
     "layer": [
      {"mark": {"type": "line", "strokeWidth": 1.8, "interpolate": "monotone"}, "encoding": {"x": {"field": "t", "type": "quantitative", "scale": {"domain": [0, 5]}, "axis": {"orient": "bottom", "title": "time", "values": [0,1,2,3,4,5], "labelPadding": 9, "titleFont": "Liberation Serif", "titleFontWeight": "normal", "titleFontSize": 25, "labelFont": "Liberation Serif", "labelFontSize": 15}}, "y": {"field": "w", "type": "quantitative", "scale": {"domain": [0, 12]}, "axis": {"orient": "left", "title": "workload", "values": [0,2,4,6,8,10,12], "labelPadding": 10, "titlePadding": -4, "titleFont": "Liberation Serif", "titleFontWeight": "normal", "titleFontSize": 26, "labelFont": "Liberation Serif", "labelFontSize": 15}}, "color": {"field": "s", "type": "nominal", "scale": {"domain": ["(0)","(1)","*"], "range": ["#0072BD","#D95319","#EDB120"]}, "legend": {"labelExpr": "datum.value == '(0)' ? 'w₁₀⁽⁰⁾' : datum.value == '(1)' ? 'w₁₀⁽¹⁾' : 'w₁₀*'", "encode": {"legend": {"update": {"stroke": {"value": "#262626"}, "strokeWidth": {"value": 2}, "fill": {"value": "white"}}}, "symbols": {"update": {"shape": {"signal": "datum.value == '(0)' ? 'M-3,0H3M0,-0.87L1,0.87H-1Z' : datum.value == '(1)' ? 'M-3,0H3M0,0.87L1,-0.87H-1Z' : 'M-3,0H3M-0.87,0L0.87,-1V1Z'"}, "fill": {"value": "transparent"}, "strokeWidth": {"value": 1.6}}}}}}}},
      {"transform": [{"filter": "datum.s == '(0)' && datum.t > 0 && datum.t < 5"}], "mark": {"type": "point", "shape": "triangle-up", "filled": false, "size": 100, "strokeWidth": 1.5, "color": "#0072BD"}, "encoding": {"x": {"field": "t", "type": "quantitative", "scale": {"domain": [0, 5]}, "axis": {"orient": "top", "labels": false, "title": null, "values": [0,1,2,3,4,5]}}, "y": {"field": "w", "type": "quantitative", "scale": {"domain": [0, 12]}, "axis": {"orient": "right", "labels": false, "title": null, "values": [0,2,4,6,8,10,12]}}}},
      {"transform": [{"filter": "datum.s == '(1)' && datum.t > 0 && datum.t < 5"}], "mark": {"type": "point", "shape": "triangle-down", "filled": false, "size": 100, "strokeWidth": 1.5, "color": "#D95319"}, "encoding": {"x": {"field": "t", "type": "quantitative", "scale": {"domain": [0, 5]}, "axis": null}, "y": {"field": "w", "type": "quantitative", "scale": {"domain": [0, 12]}, "axis": null}}},
      {"transform": [{"filter": "datum.s == '*' && datum.t > 0 && datum.t < 5"}], "mark": {"type": "point", "shape": "triangle-left", "filled": false, "size": 100, "strokeWidth": 1.5, "color": "#EDB120"}, "encoding": {"x": {"field": "t", "type": "quantitative", "scale": {"domain": [0, 5]}, "axis": null}, "y": {"field": "w", "type": "quantitative", "scale": {"domain": [0, 12]}, "axis": null}}}
     ]}
    ]}
  ],
  "config": {
    "view": {"stroke": "#262626", "strokeWidth": 1.3},
    "title": {"font": "Liberation Serif", "fontSize": 15, "fontWeight": "normal", "color": "#262626", "offset": -2},
    "style": {"guide-title": {"font": "Liberation Serif", "fontWeight": "normal", "fontSize": 25, "fill": "#262626"}, "guide-label": {"font": "Liberation Serif", "fontSize": 15, "fill": "#262626"}},
    "axis": {"domain": false, "grid": false, "tickColor": "#262626", "tickSize": -4, "tickWidth": 1, "labelFont": "Liberation Serif", "labelFontSize": 15, "labelColor": "#262626", "labelPadding": 10, "titleFont": "Liberation Serif", "titleFontSize": 25, "titleFontWeight": "normal", "titleColor": "#262626", "titlePadding": 2},
    "legend": {"orient": "top-left", "offset": 9, "title": null, "labelFont": "Liberation Serif", "labelFontSize": 15, "labelFontStyle": "italic", "labelColor": "#262626", "padding": 4, "rowPadding": 5, "symbolSize": 100, "symbolStrokeWidth": 1.6, "symbolOffset": 9, "labelOffset": 13}
  }
}
